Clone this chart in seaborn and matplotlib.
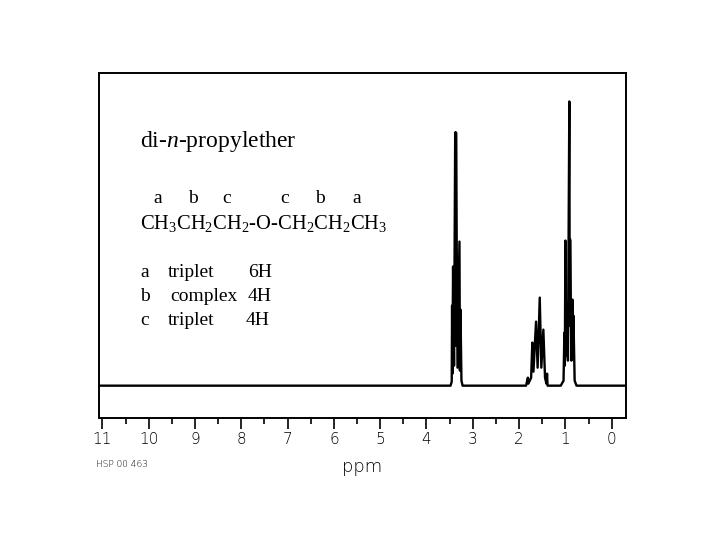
import numpy as np
import pandas as pd
import matplotlib
matplotlib.use('Agg')
import matplotlib.pyplot as plt
import seaborn as sns

# trace vertices (chemical shift in ppm, height above baseline)
shift = [11.10,
         3.48, 3.455, 3.447, 3.440, 3.426, 3.405, 3.380, 3.372, 3.362, 3.330,
         3.288, 3.278, 3.266, 3.245, 3.22,
         1.85, 1.81, 1.80, 1.74, 1.714, 1.69, 1.634, 1.600, 1.554, 1.52,
         1.476, 1.44, 1.41, 1.396, 1.385, 1.30,
         1.10, 1.04, 1.022, 1.012, 1.000, 0.990, 0.978, 0.945, 0.915, 0.906,
         0.898, 0.87, 0.848, 0.838, 0.827, 0.80, 0.76,
         -0.40]
intensity = [0,
             0, 4, 80, 12, 119, 20, 253, 40, 253, 18,
             144, 15, 76, 5, 0,
             0, 8, 2, 8, 43, 14, 64, 18, 88, 18,
             56, 8, 2, 12, 0, 0,
             0, 5, 53, 20, 145, 30, 83, 25, 284, 60,
             146, 25, 86, 30, 70, 5, 0,
             0]

tick_ppm = list(range(0, 12))
minor_ppm = [x + 0.5 for x in range(0, 11)]

title = 'di-$\\mathit{n}$-propylether'
labels_row = ['a', 'b', 'c', 'c', 'b', 'a']
formula = 'CH$_3$CH$_2$CH$_2$-O-CH$_2$CH$_2$CH$_3$'
assign_letter = ['a', 'b', 'c']
assign_mult = ['triplet', 'complex', 'triplet']
assign_h = ['6H', '4H', '4H']

sns.set_style('white')
plt.rcParams['font.family'] = ['DejaVu Sans']
plt.rcParams['text.color'] = 'black'
plt.rcParams['axes.labelcolor'] = 'black'
plt.rcParams['mathtext.fontset'] = 'custom'
plt.rcParams['mathtext.rm'] = 'Liberation Serif'
plt.rcParams['mathtext.it'] = 'Liberation Serif:italic'

df = pd.DataFrame({'ppm': shift, 'h': intensity})

fig = plt.figure(figsize=(7.2, 5.4), dpi=100)
ax = fig.add_axes([0.138, 0.2265, 0.731, 0.6375])
sns.lineplot(data=df, x='ppm', y='h', sort=False, estimator=None,
             color='black', lw=1.7, ax=ax)

ax.set_xlim(11.065, -0.302)
ax.set_ylim(-32, 312)
ax.set_yticks([])
ax.set_ylabel('')
ax.set_xticks(tick_ppm)
ax.set_xticklabels([str(t) for t in tick_ppm], fontsize=11, fontweight='light')
ax.set_xticks(minor_ppm, minor=True)
ax.tick_params(axis='x', which='major', direction='out', length=8, width=1.2,
               pad=2, colors='black', bottom=True)
ax.tick_params(axis='x', which='minor', direction='out', length=4, width=1.2,
               colors='black', bottom=True)
for s in ax.spines.values():
    s.set_color('black')
    s.set_linewidth(1.4)
ax.set_xlabel('ppm', fontsize=13, fontweight='light', labelpad=8, color='black')

serif = 'Liberation Serif'
fs = 14
W, H = 720.0, 540.0


def put(x, y, s, size=fs, **kw):
    fig.text(x / W, 1 - y / H, s, family=serif, fontsize=size, va='baseline',
             color='black', **kw)


put(140, 147, title, size=17)
for xl, lab in zip([158, 193, 227, 285, 320, 357], labels_row):
    put(xl, 203, lab, ha='center')
put(140, 229, formula, size=14.8)
for i, yl in enumerate([277, 301, 325]):
    put(140, yl, assign_letter[i])
    put(168 if assign_mult[i] == 'triplet' else 170, yl, assign_mult[i])
    put(248 if i < 2 else 246, yl, assign_h[i])

fig.text(96 / W, 1 - 467 / H, 'HSP 00 463', fontsize=6.5, fontweight='light',
         color='black')

fig.savefig('out.png', dpi=100)
